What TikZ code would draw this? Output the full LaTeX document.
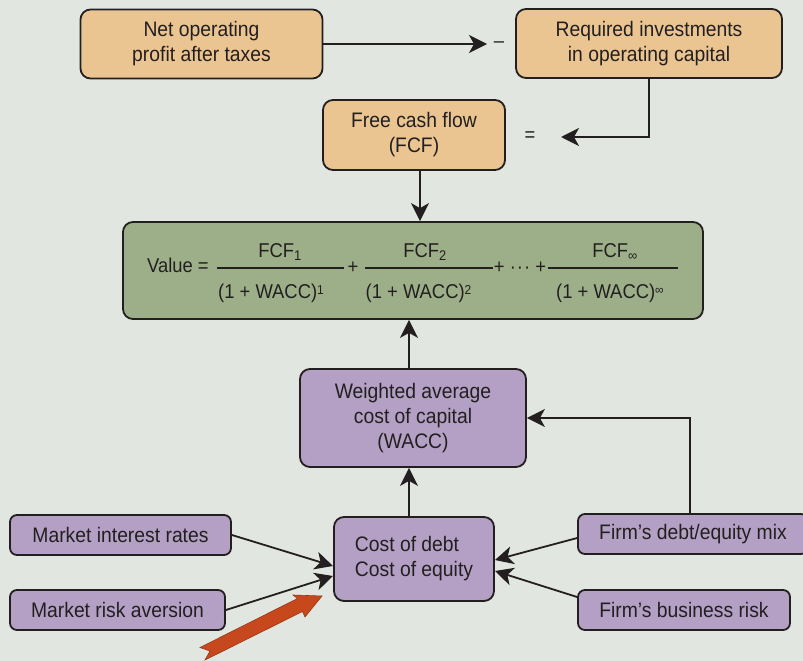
\documentclass[tikz,border=0pt]{standalone}
\usepackage{fontspec}
\setmainfont[FakeStretch=0.92]{Liberation Sans}
\usetikzlibrary{arrows.meta}
\definecolor{bgcol}{HTML}{E1E7E0}
\definecolor{orangebox}{HTML}{EAC592}
\definecolor{greenbox}{HTML}{9DAF88}
\definecolor{purplebox}{HTML}{B4A0C4}
\definecolor{redarrow}{HTML}{C8481E}
\definecolor{edgecol}{HTML}{231F20}
\definecolor{txtcol}{HTML}{231F20}
\begin{document}
\begin{tikzpicture}[x=1pt,y=-1pt,
  box/.style={draw=edgecol, line width=1.8pt, rounded corners=10pt, inner sep=0pt,
    align=center, text=txtcol, font=\fontsize{21}{25}\selectfont},
  obox/.style={box, fill=orangebox},
  pbox/.style={box, fill=purplebox},
  gbox/.style={box, fill=greenbox},
  conn/.style={draw=edgecol, line width=1.8pt, -{Stealth[length=18pt,width=18pt,inset=5pt]}},
  lbl/.style={text=txtcol, inner sep=0pt, font=\fontsize{20}{25}\selectfont},
  eq/.style={text=txtcol, inner sep=0pt, font=\fontsize{20}{23}\selectfont},
  bar/.style={draw=edgecol, line width=1.1pt}]
\fill[bgcol] (0,0) rectangle (803,661);
\useasboundingbox (0,0) rectangle (803,661);

% top row
\node[obox, minimum width=242pt, minimum height=69pt] (nopat) at (201.5,44) {Net operating\\profit after taxes};
\node[obox, minimum width=266pt, minimum height=69pt] (req) at (649,43.5) {Required investments\\in operating capital};
\node[lbl] (minus) at (499,45) {–};
\coordinate (tipA) at (487,44);
\draw[conn] (nopat.east) -- (tipA);

% FCF
\node[obox, minimum width=182pt, minimum height=70pt] (fcf) at (414,135) {Free cash flow\\(FCF)};
\node[lbl] (equals) at (530,137) {=};
\coordinate (tipB) at (561,137);
\draw[conn] (req.south) |- (tipB);

% value box
\node[gbox, minimum width=580pt, minimum height=97pt] (value) at (413,270.5) {};
\draw[conn] (fcf.south -| 420,0) -- (value.north -| 420,0);

% equation
\node[eq, anchor=base west] (vtxt) at (147,272) {Value =};
\draw[bar] (216.5,268) -- (344,268);
\node[eq, anchor=base] (n1) at (280,257) {FCF\textsubscript{1}};
\node[eq, anchor=base west] (d1) at (218,298) {(1 + WACC)\raisebox{4pt}{\fontsize{13}{13}\selectfont 1}};
\node[eq] (p1) at (353,268) {+};
\draw[bar] (364.5,268) -- (492.5,268);
\node[eq, anchor=base] (n2) at (425,257) {FCF\textsubscript{2}};
\node[eq, anchor=base west] (d2) at (365.5,298) {(1 + WACC)\raisebox{4pt}{\fontsize{13}{13}\selectfont 2}};
\node[eq] (p2) at (520,268) {+ \textperiodcentered\hspace{1pt}\textperiodcentered\hspace{1pt}\textperiodcentered\ +};
\draw[bar] (548,268) -- (678,268);
\node[eq, anchor=base] (n3) at (615,257) {FCF\textsubscript{∞}};
\node[eq, anchor=base west] (d3) at (556,298) {(1 + WACC)\raisebox{4pt}{\fontsize{13}{13}\selectfont ∞}};

% WACC
\node[pbox, minimum width=226pt, minimum height=98pt] (wacc) at (413,418) {Weighted average\\cost of capital\\(WACC)};
\draw[conn] (wacc.north -| 409,0) -- (value.south -| 409,0);

% cost box
\node[pbox, minimum width=160pt, minimum height=84pt, align=left] (cost) at (414,559) {Cost of debt\\Cost of equity};
\draw[conn] (cost.north -| 409,0) -- (wacc.south -| 409,0);

% side boxes
\node[pbox, minimum width=221pt, minimum height=40pt, rounded corners=7pt] (mir) at (120.5,535) {Market interest rates};
\node[pbox, minimum width=215pt, minimum height=40pt, rounded corners=7pt] (mra) at (117.5,610) {Market risk aversion};
\node[pbox, minimum width=230pt, minimum height=40pt, rounded corners=7pt] (fdem) at (693,534) {Firm’s debt/equity mix};
\node[pbox, minimum width=212pt, minimum height=40pt, rounded corners=7pt] (fbr) at (684,610) {Firm’s business risk};

\coordinate (cA) at (333,566);
\coordinate (cB) at (333,576);
\coordinate (cC) at (495,560);
\coordinate (cD) at (495,571);
\draw[conn] (mir.east) -- (cA);
\draw[conn] (mra.east) -- (cB);
\draw[conn] (fdem.west |- 0,538) -- (cC);
\draw[conn] (fbr.west |- 0,597) -- (cD);
\draw[conn] (fdem.north -| 690,0) |- (wacc.east);

% red arrow
\filldraw[fill=redarrow, draw=redarrow!75!black, line width=0.6pt, line join=miter]
  (322,596) -- (305,617) -- (302.5,611.5) -- (205,660) -- (210,651) -- (200,647.5)
  -- (297.5,598.5) -- (293,595) -- cycle;
\end{tikzpicture}
\end{document}
